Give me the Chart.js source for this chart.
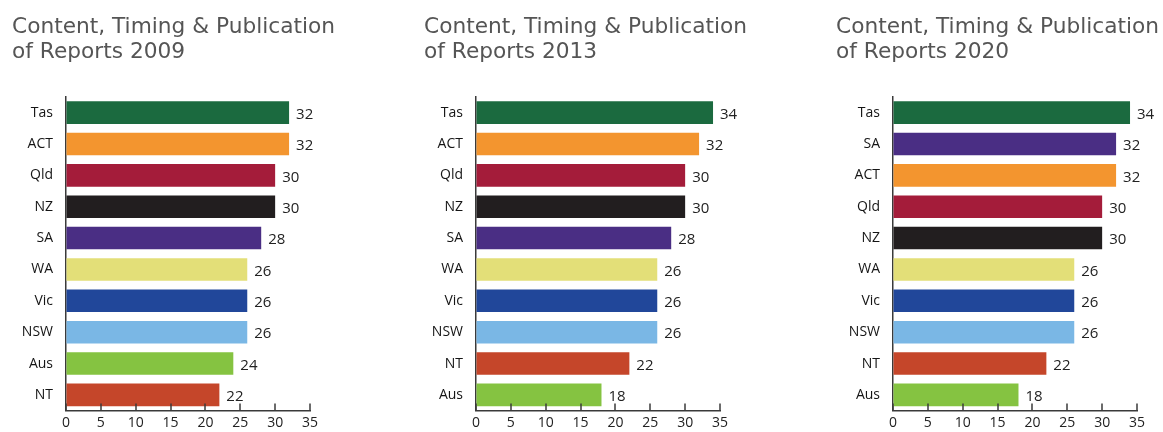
<!DOCTYPE html>
<html>
<head>
<meta charset="utf-8">
<script src="https://cdn.jsdelivr.net/npm/chart.js@4.4.1/dist/chart.umd.min.js"></script>
<style>
  body { margin: 0; background: #fff; }
  .panel { position: absolute; top: 0; width: 339px; height: 432px; }
</style>
</head>
<body>
<div class="panel" style="left:0px"><canvas id="c2009"></canvas></div>
<div class="panel" style="left:412px"><canvas id="c2013"></canvas></div>
<div class="panel" style="left:824px"><canvas id="c2020"></canvas></div>
<script>
// data
const cats2009 = ['Tas', 'ACT', 'Qld', 'NZ', 'SA', 'WA', 'Vic', 'NSW', 'Aus', 'NT'];
const vals2009 = [32, 32, 30, 30, 28, 26, 26, 26, 24, 22];

const cats2013 = ['Tas', 'ACT', 'Qld', 'NZ', 'SA', 'WA', 'Vic', 'NSW', 'NT', 'Aus'];
const vals2013 = [34, 32, 30, 30, 28, 26, 26, 26, 22, 18];

const cats2020 = ['Tas', 'SA', 'ACT', 'Qld', 'NZ', 'WA', 'Vic', 'NSW', 'NT', 'Aus'];
const vals2020 = [34, 32, 32, 30, 30, 26, 26, 26, 22, 18];

const xTicks = [0, 5, 10, 15, 20, 25, 30, 35];

const stateColours = {
  Tas: '#1b6a3f', ACT: '#f3952f', Qld: '#a41c3a', NZ: '#221e1f', SA: '#4a2e84',
  WA: '#e3df78', Vic: '#21479a', NSW: '#7ab7e5', Aus: '#85c341', NT: '#c5462a'
};

// value labels to the right of each bar
const valueLabels = {
  id: 'valueLabels',
  afterDatasetsDraw(chart) {
    const ctx = chart.ctx;
    const meta = chart.getDatasetMeta(0);
    const data = chart.data.datasets[0].data;
    ctx.save();
    ctx.font = '15px "Open Sans"';
    ctx.fillStyle = '#222222';
    ctx.textAlign = 'left';
    ctx.textBaseline = 'middle';
    meta.data.forEach((bar, i) => {
      ctx.fillText(String(data[i]), bar.x + 7, bar.y + 2);
    });
    ctx.restore();
  }
};

// short ticks pointing up from the x axis line
const upTicks = {
  id: 'upTicks',
  afterDraw(chart) {
    const ctx = chart.ctx;
    const sx = chart.scales.x;
    const y = chart.chartArea.bottom;
    ctx.save();
    ctx.strokeStyle = '#3a3a3a';
    ctx.lineWidth = 1.5;
    sx.ticks.forEach(t => {
      const x = Math.round(sx.getPixelForValue(t.value));
      ctx.beginPath();
      ctx.moveTo(x, y);
      ctx.lineTo(x, y - 7);
      ctx.stroke();
    });
    ctx.restore();
  }
};

function makeChart(id, year, cats, vals, yWidth, rightPad) {
  new Chart(document.getElementById(id), {
    type: 'bar',
    data: {
      labels: cats,
      datasets: [{
        data: vals,
        backgroundColor: cats.map(c => stateColours[c]),
        borderWidth: 0,
        barPercentage: 0.9,
        categoryPercentage: 0.8
      }]
    },
    options: {
      indexAxis: 'y',
      responsive: true,
      maintainAspectRatio: false,
      animation: false,
      layout: { padding: { left: 12, right: 0, top: 0, bottom: 0 } },
      plugins: {
        legend: { display: false },
        tooltip: { enabled: false },
        title: {
          display: true,
          text: ['Content, Timing & Publication', 'of Reports ' + year],
          align: 'start',
          color: '#555555',
          font: { family: '"DejaVu Sans"', size: 21.7, weight: 'normal', lineHeight: 1.15 },
          padding: { top: 15, bottom: 32 }
        }
      },
      scales: {
        x: {
          min: 0,
          max: 35,
          afterBuildTicks(scale) { scale.ticks = xTicks.map(v => ({ value: v })); },
          afterFit(scale) { scale.height = 20; },
          border: { display: true, color: '#3a3a3a', width: 1.5 },
          grid: { drawOnChartArea: false, drawTicks: false },
          ticks: {
            color: '#222222',
            padding: 4,
            font: { family: '"Open Sans"', size: 14 }
          }
        },
        y: {
          afterFit(scale) { scale.width = yWidth; },
          border: { display: true, color: '#3a3a3a', width: 1.5 },
          grid: { drawOnChartArea: false, drawTicks: false },
          ticks: {
            color: '#151515',
            padding: 13,
            font: { family: '"Open Sans"', size: 14 }
          }
        },
        // empty axis on the right, only reserves room for the value labels
        yRight: {
          type: 'category',
          position: 'right',
          afterFit(scale) { scale.width = rightPad; },
          border: { display: false },
          grid: { display: false },
          ticks: { display: false }
        }
      }
    },
    plugins: [valueLabels, upTicks]
  });
}

makeChart('c2009', 2009, cats2009, vals2009, 54, 29);
makeChart('c2013', 2013, cats2013, vals2013, 52, 31);
makeChart('c2020', 2020, cats2020, vals2020, 57, 26);
</script>
</body>
</html>
